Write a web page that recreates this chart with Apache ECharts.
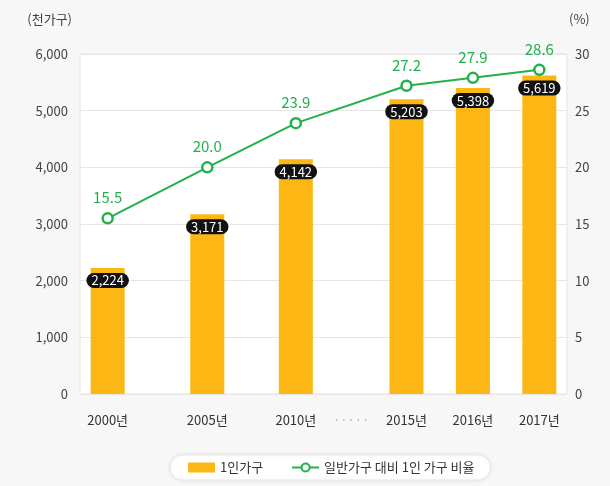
<!DOCTYPE html>
<html>
<head>
<meta charset="utf-8">
<script src="https://cdn.jsdelivr.net/npm/echarts@6/dist/echarts.min.js"></script>
<style>
  html, body { margin: 0; padding: 0; background: #f7f7f7; }
  #chart { width: 610px; height: 486px; }
</style>
</head>
<body>
<div id="chart"></div>
<script>
// 데이터
const categories = ['2000년', '2005년', '2010년', '·····', '2015년', '2016년', '2017년'];
const households = [2224, 3171, 4142, null, 5203, 5398, 5619];   // 1인가구 (천가구)
const ratio = [15.5, 20.0, 23.9, null, 27.2, 27.9, 28.6];        // 일반가구 대비 1인 가구 비율 (%)
const leftTicks = [0, 1000, 2000, 3000, 4000, 5000, 6000];
const rightTicks = [0, 5, 10, 15, 20, 25, 30];

// x축 간격이 고르지 않아서 잘게 나눈 칸에 배치
const slotCount = 44;
const slotIndex = [2, 11, 19, 24, 29, 35, 41];

const xData = new Array(slotCount).fill('');
const barData = new Array(slotCount).fill(null);
const lineData = new Array(slotCount).fill(null);
categories.forEach((c, i) => {
  xData[slotIndex[i]] = c;
  barData[slotIndex[i]] = households[i];
  lineData[slotIndex[i]] = ratio[i];
});

const font = '"Noto Sans CJK KR", "Noto Sans", sans-serif';
const chart = echarts.init(document.getElementById('chart'));

const option = {
  backgroundColor: '#f7f7f7',
  textStyle: { fontFamily: font },
  animation: false,
  grid: {
    left: 80, right: 43, top: 54, bottom: 92,
    show: true,
    backgroundColor: '#ffffff',
    borderColor: '#e4e4e4',
    borderWidth: 1
  },
  legend: {
    bottom: 6,
    left: 170,
    itemGap: 28,
    itemWidth: 27,
    itemHeight: 10,
    padding: [6, 16, 6, 18],
    backgroundColor: '#ffffff',
    borderColor: '#e8e8e8',
    borderWidth: 1,
    borderRadius: 14,
    shadowBlur: 4,
    shadowColor: 'rgba(0,0,0,0.08)',
    textStyle: { color: '#333', fontSize: 13, fontFamily: font },
    data: [
      { name: '1인가구', icon: 'rect' },
      { name: '일반가구 대비 1인 가구 비율' }
    ]
  },
  xAxis: {
    type: 'category',
    data: xData,
    axisLine: { show: false },
    axisTick: { show: false },
    axisLabel: {
      interval: 0,
      margin: 20,
      fontSize: 13,
      color: '#333',
      fontFamily: font,
      formatter: v => v === '·····' ? '{dot|' + v + '}' : v,
      rich: { dot: { color: '#aaa', fontSize: 13 } }
    }
  },
  yAxis: [
    {
      type: 'value',
      min: 0, max: 6000, interval: 1000,
      name: '(천가구)',
      nameLocation: 'end',
      nameGap: 28,
      nameTextStyle: { color: '#444', fontSize: 13, align: 'right', padding: [0, 8, 0, 0] },
      axisLine: { show: false },
      axisTick: { show: false },
      splitLine: { lineStyle: { color: '#e6e6e6' } },
      axisLabel: {
        margin: 12,
        color: '#444',
        fontSize: 13,
        formatter: v => leftTicks.includes(v) ? v.toLocaleString('en-US') : ''
      }
    },
    {
      type: 'value',
      min: 0, max: 30, interval: 5,
      name: '(%)',
      nameLocation: 'end',
      nameGap: 28,
      nameTextStyle: { color: '#444', fontSize: 13, align: 'left', padding: [0, 0, 0, 2] },
      axisLine: { show: false },
      axisTick: { show: false },
      splitLine: { show: false },
      axisLabel: {
        margin: 8,
        color: '#444',
        fontSize: 13,
        formatter: v => rightTicks.includes(v) ? String(v) : ''
      }
    }
  ],
  series: [
    {
      name: '1인가구',
      type: 'bar',
      yAxisIndex: 0,
      data: barData,
      barWidth: 34,
      itemStyle: { color: '#fdb714' },
      label: {
        show: true,
        position: 'insideTop',
        distance: 5,
        formatter: p => p.value.toLocaleString('en-US'),
        color: '#ffffff',
        fontSize: 13,
        fontFamily: font,
        backgroundColor: '#111111',
        borderRadius: 9,
        padding: [1, 5]
      }
    },
    {
      name: '일반가구 대비 1인 가구 비율',
      type: 'line',
      yAxisIndex: 1,
      data: lineData,
      connectNulls: true,
      symbol: 'circle',
      symbolSize: 10,
      lineStyle: { color: '#22b14c', width: 2 },
      itemStyle: { color: '#ffffff', borderColor: '#22b14c', borderWidth: 2.5 },
      label: {
        show: true,
        position: 'top',
        distance: 7,
        formatter: p => p.value.toFixed(1),
        color: '#22b14c',
        fontSize: 15,
        fontFamily: font
      },
      z: 5
    }
  ]
};

chart.setOption(option);
</script>
</body>
</html>
